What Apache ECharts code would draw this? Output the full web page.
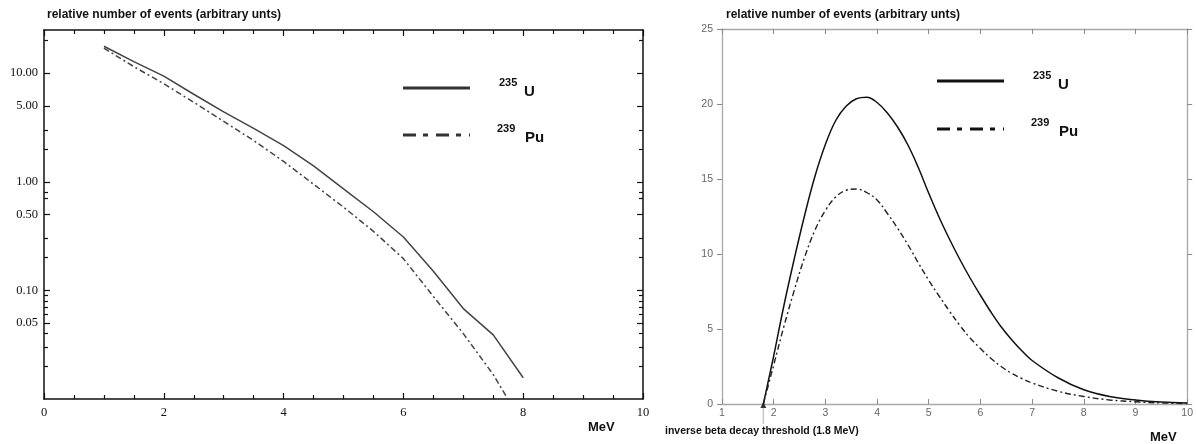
<!DOCTYPE html>
<html><head><meta charset="utf-8">
<script src="https://cdn.jsdelivr.net/npm/echarts@6/dist/echarts.min.js"></script>
<style>html,body{margin:0;padding:0;background:#fff}#c{width:1196px;height:444px}</style>
</head><body><div id="c"></div>
<script>
// ---- left panel (log scale) ----
const leftEnergy = [1, 1.5, 2, 2.5, 3, 3.5, 4, 4.5, 5, 5.5, 6, 6.5, 7, 7.5, 8];
const leftU235  = [17.7, 12.8, 9.4, 6.4, 4.4, 3.1, 2.15, 1.4, 0.86, 0.53, 0.31, 0.15, 0.068, 0.039, 0.0157];
const leftPu239 = [17.0, 11.5, 8.0, 5.4, 3.6, 2.4, 1.54, 0.95, 0.585, 0.35, 0.196, 0.088, 0.04, 0.0168, 0.0058];
const leftYLabels = [0.05, 0.1, 0.5, 1, 5, 10];
const leftYMinor = [20, 3, 2, 0.8, 0.7, 0.3, 0.2, 0.09, 0.08, 0.07, 0.06, 0.04, 0.03, 0.02];
const leftYRange = [0.01, 25];
const leftXRange = [0, 10];

// ---- right panel (linear scale) ----
const rightEnergy = [1.8, 1.9, 2.0, 2.2, 2.4, 2.6, 2.8, 3.0, 3.2, 3.4, 3.6, 3.8, 4.0, 4.2, 4.4, 4.6, 4.8, 5.0, 5.2, 5.4, 5.6, 5.8, 6.0, 6.2, 6.4, 6.6, 6.8, 7.0, 7.5, 8.0, 8.5, 9.0, 9.5, 10.0];
const rightU235  = [0, 1.6, 3.2, 6.6, 9.7, 12.6, 15.2, 17.3, 18.9, 19.85, 20.35, 20.45, 20.1, 19.4, 18.45, 17.25, 15.75, 14.05, 12.45, 11.0, 9.65, 8.4, 7.25, 6.15, 5.15, 4.3, 3.55, 2.9, 1.75, 0.95, 0.5, 0.27, 0.13, 0.06];
const rightPu239 = [0, 1.3, 2.6, 5.2, 7.6, 9.8, 11.6, 12.9, 13.8, 14.25, 14.33, 14.1, 13.6, 12.7, 11.7, 10.6, 9.4, 8.25, 7.2, 6.2, 5.25, 4.4, 3.7, 3.05, 2.5, 2.05, 1.7, 1.4, 0.85, 0.5, 0.27, 0.15, 0.07, 0.03];
const rightXRange = [1, 10];
const rightYRange = [0, 25];
const thresholdMeV = 1.8;

const seriesNames = ['235U', '239Pu'];
const titleText = 'relative number of events (arbitrary unts)';
const thresholdText = 'inverse beta decay threshold (1.8 MeV)';

const pairs = (xs, ys) => xs.map((x, i) => [x, ys[i]]);
const L10 = Math.log10;
const serif = '"Liberation Serif", "DejaVu Serif", serif';
const sans = '"Liberation Sans", Arial, sans-serif';

const leftCol = '#111';
const rightAxisCol = '#a8a8a8';

function leftX(pos, showLabel) {
  return {
    type: 'value', gridIndex: 0, position: pos, min: leftXRange[0], max: leftXRange[1], interval: 2,
    axisLine: { show: true, onZero: false, lineStyle: { color: leftCol, width: 1.5 } },
    axisTick: { show: true, inside: true, length: 6, lineStyle: { color: leftCol, width: 1.2 } },
    minorTick: { show: true, splitNumber: 4, length: 4, lineStyle: { color: leftCol, width: 1.2 } },
    axisLabel: { show: showLabel, color: '#111', fontFamily: serif, fontSize: 12.5, margin: 7 },
    splitLine: { show: false }, minorSplitLine: { show: false }
  };
}
function leftYOverlay(pos, values, len, showLabel) {
  return {
    type: 'value', gridIndex: 0, position: pos, min: L10(leftYRange[0]), max: L10(leftYRange[1]),
    axisLine: { show: false, onZero: false },
    axisTick: { show: true, inside: true, length: len, customValues: values.map(L10), lineStyle: { color: leftCol, width: 1.2 } },
    axisLabel: { show: showLabel, customValues: values.map(L10), color: '#111', fontFamily: serif, fontSize: 12.5, margin: 6,
      formatter: v => Math.pow(10, v).toFixed(2) },
    splitLine: { show: false }
  };
}
function rightX(pos, showLabel) {
  return {
    type: 'value', gridIndex: 1, position: pos, min: rightXRange[0], max: rightXRange[1], interval: 1,
    axisLine: { show: true, onZero: false, lineStyle: { color: rightAxisCol, width: 1.3 } },
    axisTick: { show: true, inside: true, length: 5, lineStyle: { color: '#888', width: 1 } },
    axisLabel: { show: showLabel, color: '#666', fontFamily: sans, fontSize: 10.5, margin: 4 },
    splitLine: { show: false }
  };
}
function rightY(pos, showLabel) {
  return {
    type: 'value', gridIndex: 1, position: pos, min: rightYRange[0], max: rightYRange[1], interval: 5,
    axisLine: { show: true, onZero: false, lineStyle: { color: rightAxisCol, width: 1.3 } },
    axisTick: { show: true, inside: false, length: 5, lineStyle: { color: '#888', width: 1 } },
    axisLabel: { show: showLabel, color: '#666', fontFamily: sans, fontSize: 10.5, margin: 9 },
    splitLine: { show: false }
  };
}

const chart = echarts.init(document.getElementById('c'), null, { renderer: 'canvas' });

function legendGraphics(lx, ly1, ly2, tx, style) {
  return [
    { type: 'line', shape: { x1: lx, y1: ly1, x2: lx + 67, y2: ly1 }, style: { stroke: style.c, lineWidth: 2.8 } },
    { type: 'line', shape: { x1: lx, y1: ly2, x2: lx + 67, y2: ly2 }, style: { stroke: style.c, lineWidth: 2.8, lineDash: [13, 7, 5, 8] } },
    { type: 'text', x: tx, y: ly1 - 5, style: { text: '235', font: 'bold 11px ' + sans, fill: '#111', align: 'left', verticalAlign: 'middle' } },
    { type: 'text', x: tx + 25, y: ly1 + 4, style: { text: 'U', font: 'bold 15px ' + sans, fill: '#111', align: 'left', verticalAlign: 'middle' } },
    { type: 'text', x: tx - 2, y: ly2 - 6, style: { text: '239', font: 'bold 11px ' + sans, fill: '#111', align: 'left', verticalAlign: 'middle' } },
    { type: 'text', x: tx + 26, y: ly2 + 3, style: { text: 'Pu', font: 'bold 15px ' + sans, fill: '#111', align: 'left', verticalAlign: 'middle' } }
  ];
}

const option = {
  animation: false,
  backgroundColor: '#fff',
  grid: [
    { left: 44, top: 30, width: 599, height: 369, containLabel: false },
    { left: 722, top: 29, width: 470, height: 375, containLabel: false }
  ],
  xAxis: [leftX('bottom', true), leftX('top', false), rightX('bottom', true), rightX('top', false)],
  yAxis: [
    { type: 'log', gridIndex: 0, position: 'left', min: leftYRange[0], max: leftYRange[1], logBase: 10,
      axisLine: { show: true, onZero: false, lineStyle: { color: leftCol, width: 1.5 } }, axisTick: { show: false }, axisLabel: { show: false }, splitLine: { show: false } },
    leftYOverlay('left', leftYLabels, 6, true),
    leftYOverlay('left', leftYMinor, 4, false),
    Object.assign(leftYOverlay('right', leftYLabels, 6, false), { axisLine: { show: true, onZero: false, lineStyle: { color: leftCol, width: 1.5 } } }),
    leftYOverlay('right', leftYMinor, 4, false),
    rightY('left', true),
    rightY('right', false)
  ],
  series: [
    { name: seriesNames[0], type: 'line', xAxisIndex: 0, yAxisIndex: 0, data: pairs(leftEnergy, leftU235),
      showSymbol: false, symbol: 'none', lineStyle: { color: '#444', width: 1.5 }, clip: true },
    { name: seriesNames[1], type: 'line', xAxisIndex: 0, yAxisIndex: 0, data: pairs(leftEnergy, leftPu239),
      showSymbol: false, symbol: 'none', lineStyle: { color: '#444', width: 1.5, type: [6, 3, 2, 3] }, clip: true },
    { name: seriesNames[0], type: 'line', xAxisIndex: 2, yAxisIndex: 5, data: pairs(rightEnergy, rightU235), smooth: 0.4,
      showSymbol: false, symbol: 'none', lineStyle: { color: '#111', width: 1.5 } },
    { name: seriesNames[1], type: 'line', xAxisIndex: 2, yAxisIndex: 5, data: pairs(rightEnergy, rightPu239), smooth: 0.4,
      showSymbol: false, symbol: 'none', lineStyle: { color: '#222', width: 1.4, type: [6, 3, 2, 3] } },
    { name: 'threshold', type: 'scatter', xAxisIndex: 2, yAxisIndex: 5, data: [[thresholdMeV, 0]], symbol: 'triangle',
      symbolSize: [6, 6], symbolOffset: [0, 1], itemStyle: { color: '#000' }, clip: false, z: 5 }
  ],
  graphic: [
    { type: 'text', x: 47, y: 15, style: { text: titleText, font: 'bold 12px ' + sans, fill: '#111', align: 'left', verticalAlign: 'middle' } },
    { type: 'text', x: 726, y: 15, style: { text: titleText, font: 'bold 12px ' + sans, fill: '#111', align: 'left', verticalAlign: 'middle' } },
    { type: 'text', x: 588, y: 427, style: { text: 'MeV', font: 'bold 13px ' + sans, fill: '#111', align: 'left', verticalAlign: 'middle' } },
    { type: 'text', x: 1150, y: 437, style: { text: 'MeV', font: 'bold 13px ' + sans, fill: '#111', align: 'left', verticalAlign: 'middle' } },
    { type: 'text', x: 665, y: 431, style: { text: thresholdText, font: 'bold 10.5px ' + sans, fill: '#111', align: 'left', verticalAlign: 'middle' } }
  ].concat(legendGraphics(403, 88, 135, 499, { c: '#333' }), legendGraphics(937, 81, 129, 1033, { c: '#111' }))
};
chart.setOption(option);

// light marker line below the threshold triangle, positioned through the axis scale
const tx = chart.convertToPixel({ xAxisIndex: 2 }, thresholdMeV);
const ty = chart.convertToPixel({ yAxisIndex: 5 }, 0);
chart.setOption({ graphic: option.graphic.concat([
  { type: 'line', shape: { x1: tx, y1: ty + 4, x2: tx, y2: ty + 20 }, style: { stroke: '#c8c8c8', lineWidth: 1.5 } }
]) });
</script></body></html>
